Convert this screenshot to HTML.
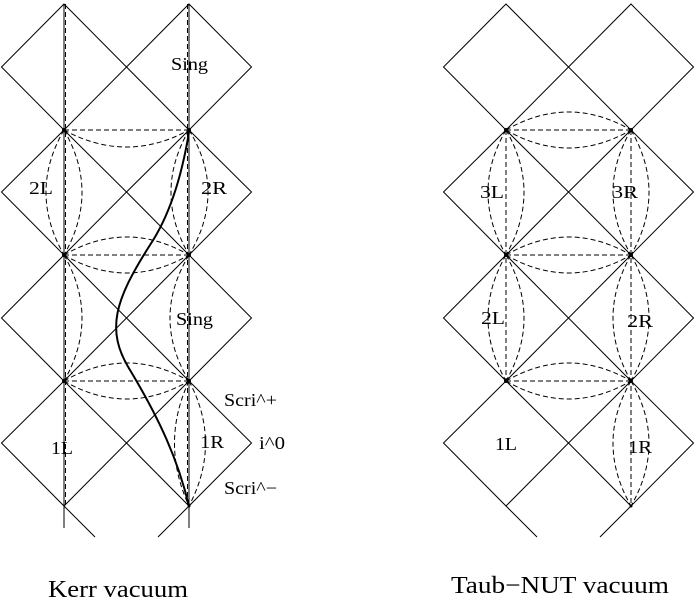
<!DOCTYPE html>
<html><head><style>body{margin:0;background:#fff}svg{display:block}</style></head><body>
<svg width="695" height="599" viewBox="0 0 695 599" xmlns="http://www.w3.org/2000/svg" font-family="Liberation Serif, serif">
<g fill="none" stroke="#000" stroke-width="1">
<path d="M64,4 L126.5,67 L64,130 L1.5,67 Z M189,4 L251.5,67 L189,130 L126.5,67 Z"/>
<path d="M64,130 L126.5,192 L64,255 L1.5,192 Z M189,130 L251.5,192 L189,255 L126.5,192 Z"/>
<path d="M64,255 L126.5,318 L64,381 L1.5,318 Z M189,255 L251.5,318 L189,381 L126.5,318 Z"/>
<path d="M64,381 L126.5,443 L64,506 L1.5,443 Z M189,381 L251.5,443 L189,506 L126.5,443 Z"/>
<path d="M64,506 L95,537 M189,506 L158,537"/>
<path d="M64,4 V528 M189,4 V528"/>
</g>
<g fill="none" stroke="#000" stroke-width="1" stroke-dasharray="5,3">
<path d="M65.5,4 V506 M187.5,4 V506"/>
<path d="M64,130 H189 M64,255 H189 M64,381 H189"/>
<path d="M64,130 Q126.5,164 189,130"/>
<path d="M64,255 Q126.5,219 189,255 M64,255 Q126.5,291 189,255"/>
<path d="M64,381 Q126.5,345 189,381 M64,381 Q126.5,417 189,381"/>
<path d="M64,130 Q28,192 64,255 M64,130 Q100,192 64,255"/>
<path d="M64,255 Q100,318 64,381"/>
<path d="M189,130 Q153,192 189,255 M189,130 Q227,192 189,255"/>
<path d="M189,255 Q151,318 189,381"/>
<path d="M189,381 Q160,443 189,506 M189,381 Q222,443 189,506"/>
</g>
<path d="M189,132 C182,175 170,215 150,245 C115,300 105,330 130,370 C160,420 178,460 189,506" fill="none" stroke="#000" stroke-width="2"/>
<g fill="#000"><circle cx="64" cy="130" r="2"/><circle cx="189" cy="130" r="2"/><circle cx="64" cy="255" r="2"/><circle cx="189" cy="255" r="2"/><circle cx="64" cy="381" r="2"/><circle cx="189" cy="381" r="2"/><circle cx="189" cy="506" r="1.5"/></g>

<g fill="none" stroke="#000" stroke-width="1" transform="translate(442,0)">
<path d="M64,4 L126.5,67 L64,130 L1.5,67 Z M189,4 L251.5,67 L189,130 L126.5,67 Z"/>
<path d="M64,130 L126.5,192 L64,255 L1.5,192 Z M189,130 L251.5,192 L189,255 L126.5,192 Z"/>
<path d="M64,255 L126.5,318 L64,381 L1.5,318 Z M189,255 L251.5,318 L189,381 L126.5,318 Z"/>
<path d="M64,381 L126.5,443 L64,506 L1.5,443 Z M189,381 L251.5,443 L189,506 L126.5,443 Z"/>
<path d="M64,506 L95,537 M189,506 L158,537"/>
</g>
<g fill="none" stroke="#000" stroke-width="1" stroke-dasharray="5,3" transform="translate(442,0)">
<path d="M64,130 V381 M189,130 V506"/>
<path d="M64,130 H189 M64,255 H189 M64,381 H189"/>
<path d="M64,130 Q126.5,94 189,130 M64,130 Q126.5,166 189,130"/>
<path d="M64,255 Q126.5,219 189,255 M64,255 Q126.5,291 189,255"/>
<path d="M64,381 Q126.5,345 189,381 M64,381 Q126.5,417 189,381"/>
<path d="M64,130 Q28,192 64,255 M64,130 Q100,192 64,255"/>
<path d="M64,255 Q28,318 64,381 M64,255 Q100,318 64,381"/>
<path d="M189,130 Q153,192 189,255 M189,130 Q225,192 189,255"/>
<path d="M189,255 Q153,318 189,381 M189,255 Q225,318 189,381"/>
<path d="M189,381 Q153,443 189,506 M189,381 Q225,443 189,506"/>
</g>
<g fill="#000" transform="translate(442,0)"><circle cx="64" cy="130" r="2"/><circle cx="189" cy="130" r="2"/><circle cx="64" cy="255" r="2"/><circle cx="189" cy="255" r="2"/><circle cx="64" cy="381" r="2"/><circle cx="189" cy="381" r="2"/><circle cx="189" cy="506" r="1.5"/></g>

<g font-size="18" fill="#000" lengthAdjust="spacingAndGlyphs">
<text x="171" y="70" textLength="37" lengthAdjust="spacingAndGlyphs">Sing</text>
<text x="29" y="194" textLength="24" lengthAdjust="spacingAndGlyphs">2L</text>
<text x="201" y="194" textLength="26" lengthAdjust="spacingAndGlyphs">2R</text>
<text x="176" y="325" textLength="37" lengthAdjust="spacingAndGlyphs">Sing</text>
<text x="224" y="406" textLength="53" lengthAdjust="spacingAndGlyphs">Scri^+</text>
<text x="51" y="454" textLength="22" lengthAdjust="spacingAndGlyphs">1L</text>
<text x="200" y="448" textLength="24" lengthAdjust="spacingAndGlyphs">1R</text>
<text x="259" y="449" textLength="26" lengthAdjust="spacingAndGlyphs">i^0</text>
<text x="224" y="494" textLength="53" lengthAdjust="spacingAndGlyphs">Scri^−</text>
<text x="480" y="198" textLength="24" lengthAdjust="spacingAndGlyphs">3L</text>
<text x="612" y="198" textLength="26" lengthAdjust="spacingAndGlyphs">3R</text>
<text x="481" y="324" textLength="24" lengthAdjust="spacingAndGlyphs">2L</text>
<text x="627" y="327" textLength="26" lengthAdjust="spacingAndGlyphs">2R</text>
<text x="495" y="450" textLength="22" lengthAdjust="spacingAndGlyphs">1L</text>
<text x="628" y="453" textLength="24" lengthAdjust="spacingAndGlyphs">1R</text>
</g>
<g font-size="24" fill="#000">
<text x="48" y="597" textLength="140" lengthAdjust="spacingAndGlyphs">Kerr vacuum</text>
<text x="451" y="593" textLength="218" lengthAdjust="spacingAndGlyphs">Taub−NUT vacuum</text>
</g>
</svg>
</body></html>
